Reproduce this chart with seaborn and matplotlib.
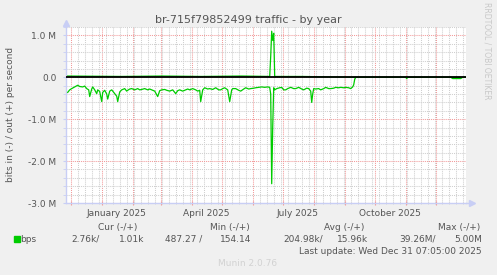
import matplotlib
matplotlib.use("Agg")
import matplotlib.pyplot as plt
import matplotlib.dates as mdates
import matplotlib.transforms as mtransforms
from matplotlib.ticker import MultipleLocator, FixedLocator
import numpy as np
import pandas as pd
import seaborn as sns

# ---------------- data ----------------
title = "br-715f79852499 traffic - by year"
ylabel = "bits in (-) / out (+) per second"
ytick_values = [1.0, 0.0, -1.0, -2.0, -3.0]
ytick_labels = ["1.0 M", "0.0", "-1.0 M", "-2.0 M", "-3.0 M"]
month_labels = ["January 2025", "April 2025", "July 2025", "October 2025"]
month_label_pos = ["2025-01-16", "2025-04-16", "2025-07-16", "2025-10-16"]
base_date = "2025-01-01"
end_time = "2025-12-31 07:05"

# days relative to 2025-01-01, values in Mbit/s (in = negative)
in_days = [-34, -32, -30, -27, -24, -22, -19, -17, -15, -13,
           -12, -10, -9, -7, -5, -4, -2, 0, 1, 3,
           5, 6, 8, 10, 12, 13, 15, 16, 18, 20,
           23, 25, 26, 28, 30, 33, 36, 38, 40, 43,
           46, 48, 50, 53, 56, 58, 60, 63, 65, 68,
           71, 74, 76, 78, 81, 84, 86, 88, 91, 94,
           96, 98, 99, 101, 103, 106, 108, 111, 114, 117,
           119, 121, 123, 126, 128, 130, 131, 134, 137, 139,
           142, 144, 147, 149, 152, 154, 157, 160, 163, 166,
           168, 169, 170, 171, 172, 173, 175, 178, 180, 182,
           184, 186, 189, 192, 194, 197, 200, 202, 205, 207,
           209, 210, 211, 212, 214, 217, 219, 222, 224, 227,
           229, 232, 234, 237, 239, 242, 244, 247, 249, 251,
           252, 253, 254, 279, 304, 305, 306, 329, 349, 351,
           355, 359, 361, 364]
in_values = [-0.36, -0.30, -0.27, -0.23, -0.19, -0.22, -0.23, -0.21, -0.27, -0.30,
             -0.46, -0.28, -0.23, -0.30, -0.39, -0.30, -0.34, -0.58, -0.36, -0.31,
             -0.40, -0.52, -0.33, -0.30, -0.36, -0.39, -0.45, -0.58, -0.35, -0.30,
             -0.27, -0.33, -0.31, -0.28, -0.27, -0.30, -0.27, -0.30, -0.29, -0.27,
             -0.30, -0.28, -0.30, -0.33, -0.46, -0.32, -0.30, -0.29, -0.31, -0.33,
             -0.30, -0.39, -0.32, -0.30, -0.33, -0.30, -0.28, -0.30, -0.27, -0.30,
             -0.33, -0.31, -0.58, -0.30, -0.25, -0.28, -0.27, -0.29, -0.25, -0.30,
             -0.30, -0.27, -0.25, -0.30, -0.58, -0.30, -0.27, -0.27, -0.31, -0.33,
             -0.28, -0.25, -0.28, -0.27, -0.26, -0.25, -0.24, -0.23, -0.24, -0.23,
             -0.24, -0.40, -2.54, -1.20, -0.25, -0.30, -0.27, -0.25, -0.24, -0.30,
             -0.30, -0.27, -0.24, -0.27, -0.27, -0.24, -0.28, -0.30, -0.26, -0.27,
             -0.33, -0.60, -0.40, -0.27, -0.28, -0.27, -0.30, -0.27, -0.24, -0.27,
             -0.27, -0.26, -0.24, -0.25, -0.24, -0.25, -0.24, -0.25, -0.27, -0.23,
             -0.18, -0.05, 0.0, 0.0, 0.0, -0.03, 0.0, 0.0, 0.0, -0.03,
             -0.03, -0.03, 0.0, 0.0]
out_days = [-34, 20, 60, 100, 140, 168, 169, 170, 171, 172, 173, 200, 254, 364]
out_values = [0.03, 0.02, 0.03, 0.02, 0.03, 0.02, 0.50, 1.10, 0.88, 1.05, 0.02, 0.02, 0.0, 0.0]

legend_head = ["Cur (-/+)", "Min (-/+)", "Avg (-/+)", "Max (-/+)"]
legend_vals = ["2.76k/", "1.01k", "487.27 /", "154.14", "204.98k/", "15.96k", "39.26M/", "5.00M"]
series_name = "bps"
last_update = "Last update: Wed Dec 31 07:05:00 2025"
footer = "Munin 2.0.76"
side_text = "RRDTOOL / TOBI OETIKER"

# ---------------- styling ----------------
W, H = 497, 275
BG = "#F0F0F0"
FONT = "#555555"
AXIS = "#C8CEF5"
GREEN = "#00CC00"
MGRID = "#F29A9A"
GRID = "#CFCFCF"

plt.rcParams["font.family"] = ["DejaVu Sans"]

base = pd.Timestamp(base_date)
df_in = pd.DataFrame({"t": base + pd.to_timedelta(in_days, unit="D"), "v": in_values})
df_out = pd.DataFrame({"t": base + pd.to_timedelta(out_days, unit="D"), "v": out_values})

fig = plt.figure(figsize=(W / 100, H / 100), dpi=100, facecolor=BG)
L, R, T, B = 66, 466, 27, 203
ax = fig.add_axes([L / W, 1 - B / H, (R - L) / W, (B - T) / H])
ax.set_facecolor("white")

t_end = pd.Timestamp(end_time)
t_start = t_end - pd.Timedelta(days=400)
ax.set_xlim(t_start, t_end)
ax.set_ylim(-3.0, 1.2)

# grid
ax.xaxis.set_major_locator(mdates.MonthLocator())
ax.xaxis.set_minor_locator(mdates.WeekdayLocator(byweekday=mdates.SU))
ax.yaxis.set_major_locator(FixedLocator(ytick_values))
ax.yaxis.set_minor_locator(MultipleLocator(0.2))
ax.grid(which="major", color=MGRID, linestyle=(0, (1, 1)), linewidth=0.75, zorder=0)
ax.grid(which="minor", color=GRID, linestyle=(0, (1, 1)), linewidth=0.75, zorder=0)
ax.set_axisbelow(True)

ax.set_yticklabels(ytick_labels)
ax.xaxis.set_major_formatter(plt.NullFormatter())
ax.tick_params(axis="y", which="major", labelsize=6.5, labelcolor=FONT, length=2,
               color=AXIS, pad=5)
ax.tick_params(axis="y", which="minor", length=2, color=AXIS)
ax.tick_params(axis="x", which="major", length=3, color=MGRID, direction="inout")
ax.tick_params(axis="x", which="minor", length=2, color=GRID, direction="inout")

for s in ["top", "right"]:
    ax.spines[s].set_visible(False)
for s in ["left", "bottom"]:
    ax.spines[s].set_color(AXIS)
    ax.spines[s].set_linewidth(1.0)

# data
sns.lineplot(data=df_out, x="t", y="v", ax=ax, color=GREEN, linewidth=0.9, zorder=3)
sns.lineplot(data=df_in, x="t", y="v", ax=ax, color=GREEN, linewidth=0.9, zorder=3)
ax.axhline(0, color="black", linewidth=1.3, zorder=4)
ax.set_xlabel("")
ax.set_ylabel("")

# arrows
ax.plot([1.0, 1.012], [0, 0], transform=ax.transAxes, color=AXIS, lw=1.0, clip_on=False)
ax.plot([1.016], [0], marker=">", markersize=4, color=AXIS, transform=ax.transAxes, clip_on=False)
ax.plot([0, 0], [1.0, 1.017], transform=ax.transAxes, color=AXIS, lw=1.0, clip_on=False)
ax.plot([0], [1.025], marker="^", markersize=4, color=AXIS, transform=ax.transAxes, clip_on=False)

# month labels
trans = mtransforms.blended_transform_factory(ax.transData, fig.transFigure)
for lab, pos in zip(month_labels, month_label_pos):
    ax.text(pd.Timestamp(pos), 1 - 213 / H, lab, transform=trans, ha="center", va="center",
            fontsize=6.5, color=FONT)

def ft(x, y, s, **kw):
    kw.setdefault("fontsize", 6.5)
    kw.setdefault("color", FONT)
    kw.setdefault("va", "center")
    fig.text(x / W, 1 - y / H, s, **kw)

ft(248.5, 20, title, ha="center", fontsize=8)
ft(11, 114, ylabel, ha="center", rotation=90)
ft(487, 51, side_text, ha="center", rotation=270, fontsize=5.5, color="#C8C8C8")

# legend
ft(137, 227.5, legend_head[0], ha="right")
ft(250, 227.5, legend_head[1], ha="right")
ft(364, 227.5, legend_head[2], ha="right")
ft(480, 227.5, legend_head[3], ha="right")
fig.patches.append(plt.Rectangle((14 / W, 1 - 242 / H), 6 / W, 6 / H, transform=fig.transFigure,
                                 color=GREEN, figure=fig))
ft(20, 239.5, series_name, ha="left")
val_right = [100, 144, 202, 251, 323, 368, 436, 482]
for v, xr in zip(legend_vals, val_right):
    ft(xr, 239.5, v, ha="right")
ft(482, 251, last_update, ha="right")
ft(248, 263, footer, ha="center", color="#D2D2D2")

fig.savefig("out.png", dpi=100, facecolor=BG)
